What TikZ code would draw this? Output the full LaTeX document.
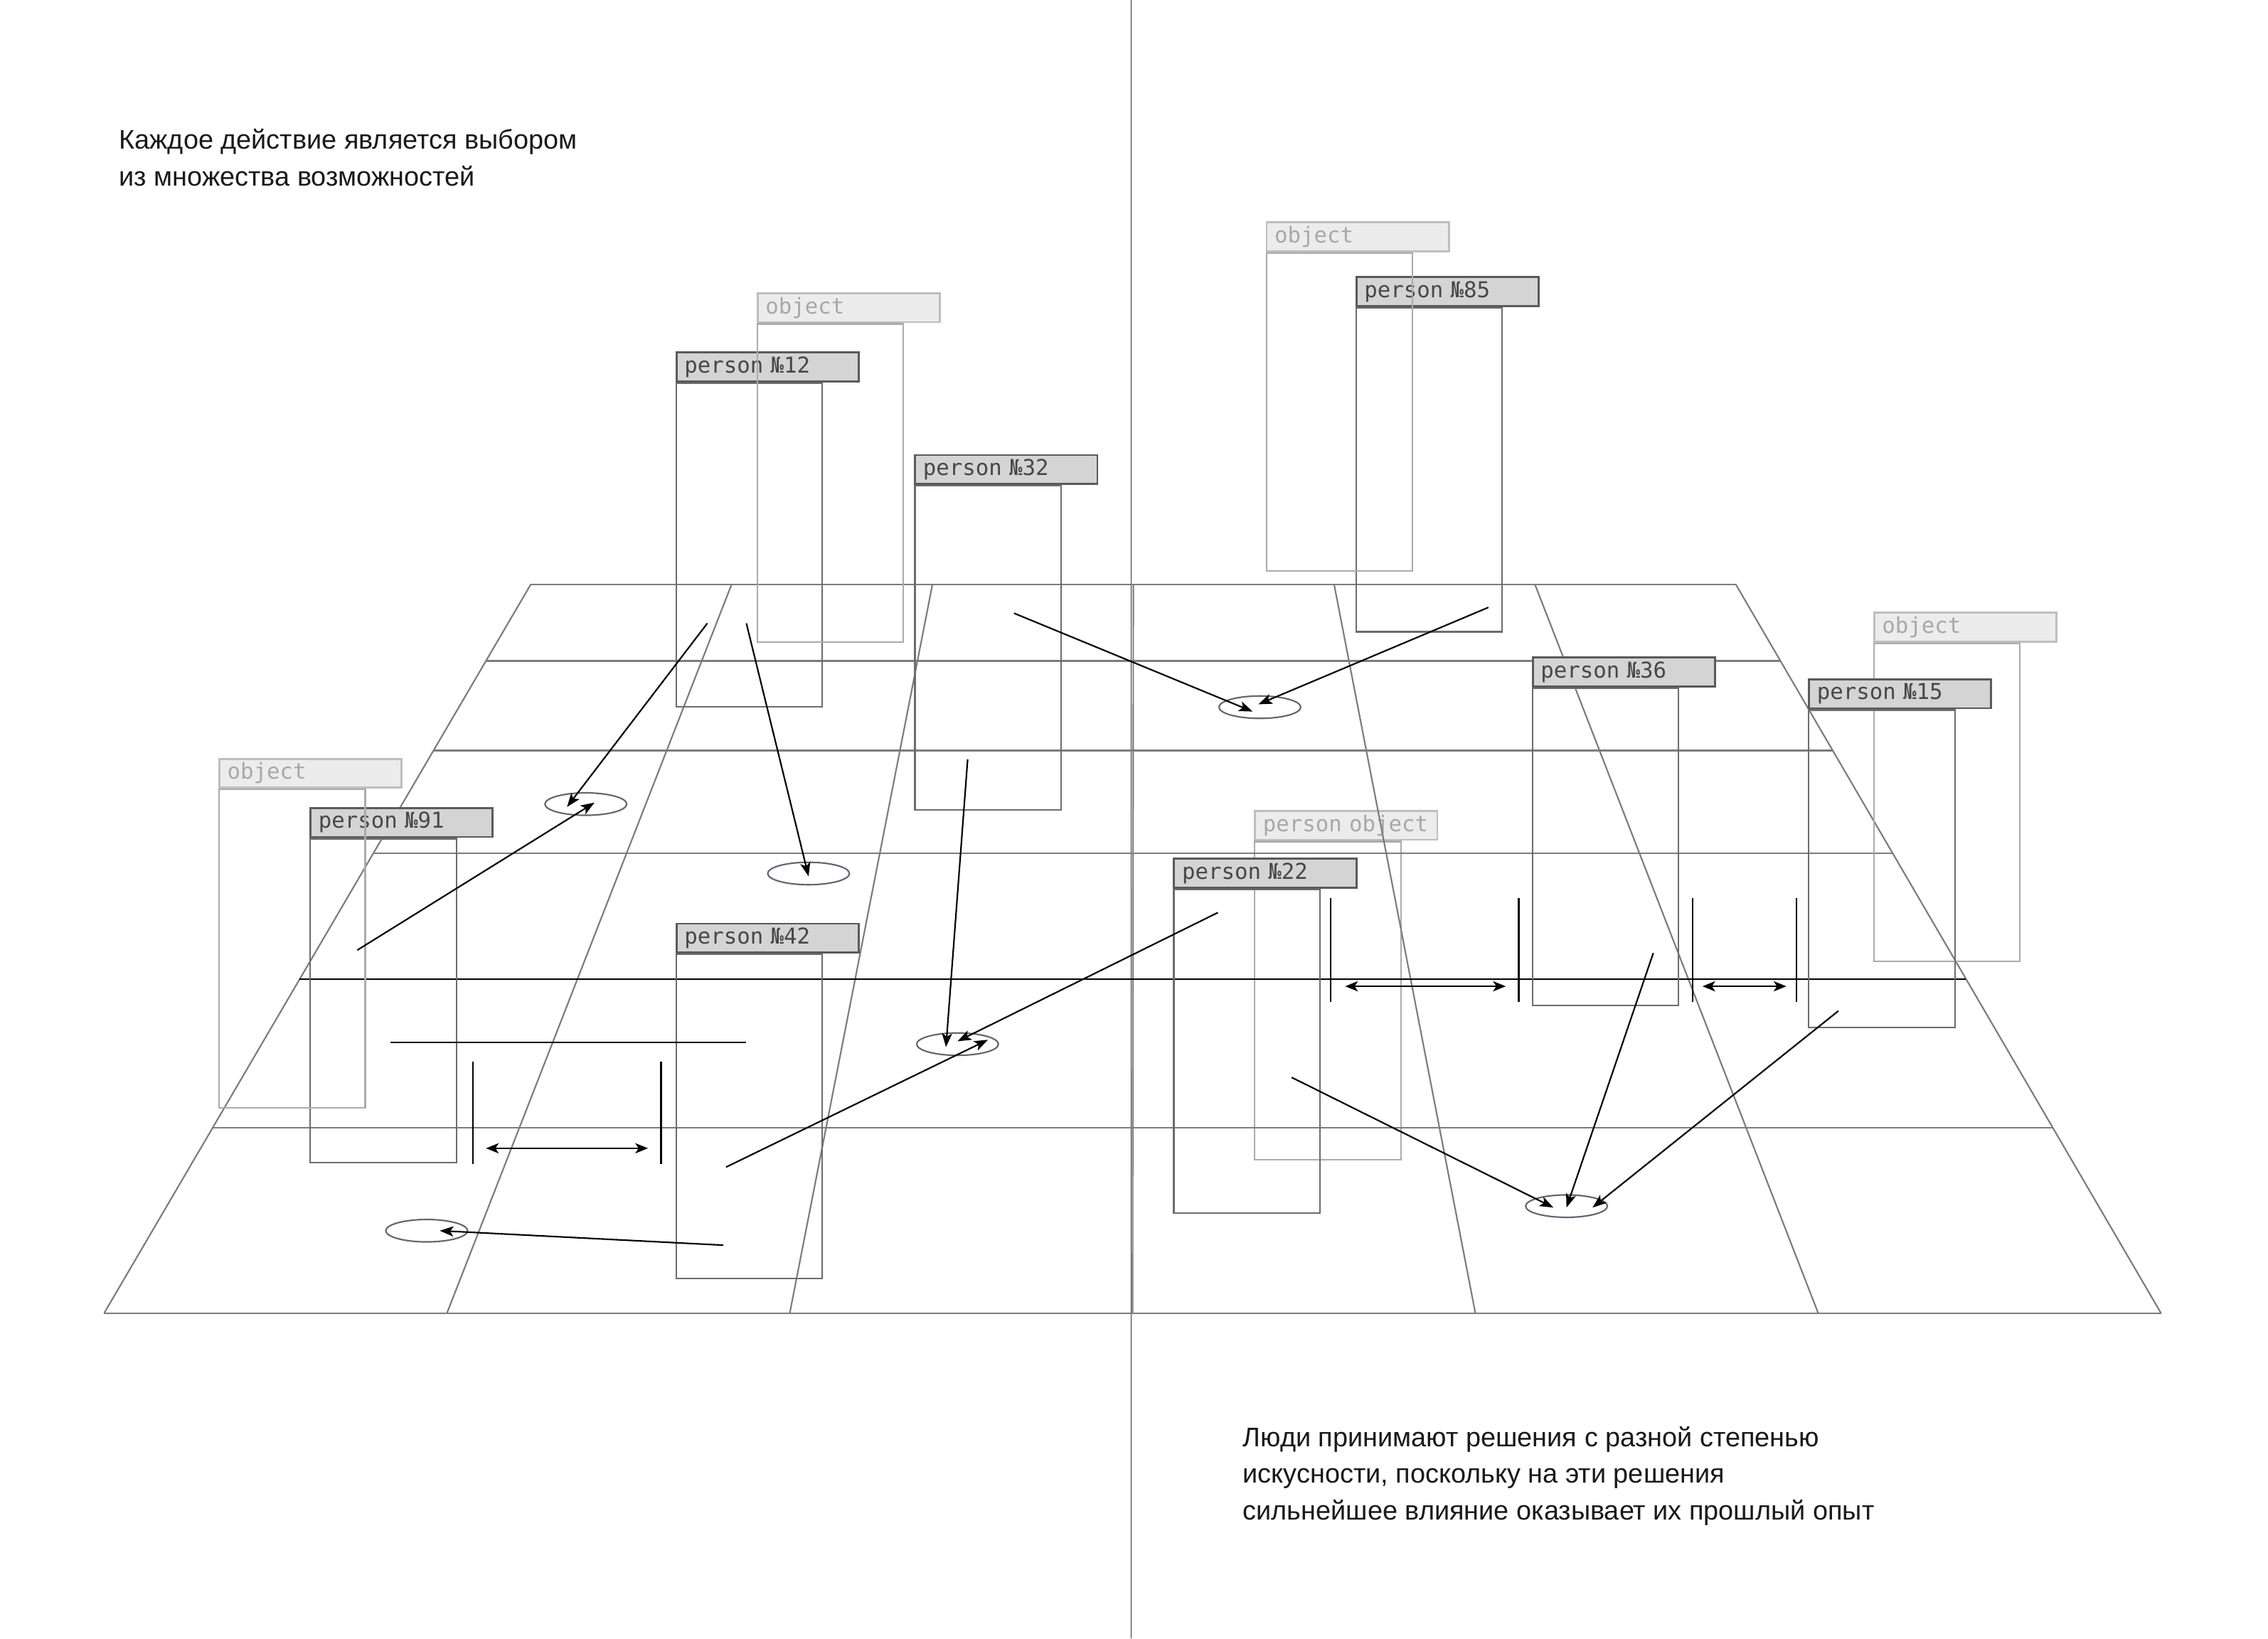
\documentclass[tikz,border=0pt]{standalone}
\usepackage{fontspec}
\setmainfont{Liberation Sans}
\newfontfamily\tagmono{DejaVu Sans Mono}
\usetikzlibrary{arrows.meta,positioning,shapes.geometric}
\definecolor{tagink}{HTML}{474747}
\definecolor{tagedge}{HTML}{5A5A5A}
\definecolor{tagfill}{HTML}{D4D4D4}
\definecolor{bodygrey}{HTML}{6C6C6C}
\definecolor{ghostink}{HTML}{A8A8A8}
\definecolor{ghostedge}{HTML}{BEBEBE}
\definecolor{ghostfill}{HTML}{ECECEC}
\definecolor{ghostline}{HTML}{ABABAB}
\definecolor{gridgrey}{HTML}{7C7C7C}
\definecolor{spotgrey}{HTML}{626672}

\begin{document}
\begin{tikzpicture}[x=0.02cm,y=-0.02cm,
    gridline/.style={draw=gridgrey,line width=0.6pt},
    ptag/.style={draw=tagedge,fill=tagfill,line width=0.8pt,text=tagink,
                 font=\tagmono\fontsize{8.6}{10}\selectfont,anchor=north west,
                 text width=2.3cm,align=left,minimum height=0.4cm,
                 inner xsep=0.11cm,inner ysep=0pt},
    pbody/.style={draw=bodygrey,line width=0.6pt,anchor=north west,
                  minimum width=2.02cm,minimum height=4.48cm,inner sep=0pt},
    otag/.style={ptag,draw=ghostedge,fill=ghostfill,text=ghostink},
    obody/.style={pbody,draw=ghostline,minimum height=4.4cm},
    spot/.style={ellipse,draw=spotgrey,line width=0.6pt,minimum width=1.13cm,
                 minimum height=0.31cm,inner sep=0pt},
    choicearrow/.style={-{Stealth[length=5.4pt,width=4pt,inset=1.3pt]},line width=0.6pt},
    gaparrow/.style={{Stealth[length=5pt,width=4pt,inset=1.3pt]}-{Stealth[length=5pt,width=4pt,inset=1.3pt]},
                     line width=0.6pt},
    gapbar/.style={line width=0.6pt},
    notetext/.style={font=\fontsize{10.6}{14.4}\selectfont,align=left,inner sep=0pt,
                     anchor=north west,text=black!90}]
  \useasboundingbox (0,0) rectangle (1568,1133);

  \draw[draw=black!80,line width=0.45pt] (782,0) -- (782,1133);

  % seen through by the floor
  \node[otag] (tpo) at (867,560) {person object};
  \node[obody] (bpo) at (tpo.south west) {};

  % floor
  \foreach \r in {404,457,519,590,780,908}
    \draw[gridline] ({367-0.5853*(\r-404)},\r) -- ({1200+0.5833*(\r-404)},\r);
  \foreach \i in {0,...,6}
    \draw[gridline] ({367+\i*138.83},404) -- ({72+\i*237},908);
  \draw[line width=0.65pt] (207,677) -- (1359,677);

  \node[ptag] (t12) at (467,243) {person №12};
  \node[pbody] (b12) at (t12.south west) {};
  \node[otag] (toa) at (523,202) {object};
  \node[obody] (boa) at (toa.south west) {};

  \node[ptag] (t32) at (632,314) {person №32};
  \node[pbody] (b32) at (t32.south west) {};

  \node[ptag] (t85) at (937,191) {person №85};
  \node[pbody] (b85) at (t85.south west) {};
  \node[otag] (tob) at (875,153) {object};
  \node[obody] (bob) at (tob.south west) {};

  \node[ptag] (t91) at (214,558) {person №91};
  \node[pbody] (b91) at (t91.south west) {};
  \node[otag] (toc) at (151,524) {object};
  \node[obody] (boc) at (toc.south west) {};

  \node[ptag] (t42) at (467,638) {person №42};
  \node[pbody] (b42) at (t42.south west) {};

  \node[ptag] (t22) at (811,593) {person №22};
  \node[pbody] (b22) at (t22.south west) {};

  \node[ptag] (t36) at (1059,454) {person №36};
  \node[pbody,minimum height=4.39cm] (b36) at (t36.south west) {};

  \node[otag] (tod) at (1295,423) {object};
  \node[obody] (bod) at (tod.south west) {};
  \node[ptag] (t15) at (1250,469) {person №15};
  \node[pbody,minimum height=4.39cm] (b15) at (t15.south west) {};

  \node[spot] (e1) at (405,556) {};
  \node[spot] (e2) at (559,604) {};
  \node[spot] (e3) at (662,722) {};
  \node[spot] (e4) at (295,851) {};
  \node[spot] (e5) at (871,489) {};
  \node[spot] (e6) at (1083,834) {};

  \coordinate (s1) at (489,431);
  \coordinate (s2) at (516,431);
  \coordinate (s3) at (247,657);
  \coordinate (s4) at (701,424);
  \coordinate (s5) at (1029,420);
  \coordinate (s6) at (669,525);
  \coordinate (s7) at (842,631);
  \coordinate (s8) at (502,807);
  \coordinate (s9) at (500,861);
  \coordinate (s10) at (893,745);
  \coordinate (s11) at (1143,659);
  \coordinate (s12) at (1271,699);

  \draw[choicearrow] (s1) -- ([shift={(-13,2)}]e1.center);
  \draw[choicearrow] (s3) -- ([shift={(6,-1)}]e1.center);
  \draw[choicearrow] (s2) -- ([shift={(0,2)}]e2.center);
  \draw[choicearrow] (s6) -- ([shift={(-8,2)}]e3.center);
  \draw[choicearrow] (s7) -- ([shift={(0,-2)}]e3.center);
  \draw[choicearrow] (s8) -- ([shift={(21,-3)}]e3.center);
  \draw[choicearrow] (s9) -- ([shift={(9,0)}]e4.center);
  \draw[choicearrow] (s4) -- ([shift={(-5,3)}]e5.center);
  \draw[choicearrow] (s5) -- ([shift={(-1,-2)}]e5.center);
  \draw[choicearrow] (s10) -- ([shift={(-9,1)}]e6.center);
  \draw[choicearrow] (s11) -- ([shift={(0,1)}]e6.center);
  \draw[choicearrow] (s12) -- ([shift={(18,1)}]e6.center);

  \draw[line width=0.6pt] (270,721) -- (516,721);
  \draw[gapbar] (327,734) -- (327,805);
  \draw[gapbar] (457,734) -- (457,805);
  \draw[gaparrow] (336,794) -- (448,794);
  \draw[gapbar] (920,621) -- (920,693);
  \draw[gapbar] (1050,621) -- (1050,693);
  \draw[gaparrow] (930,682) -- (1041,682);
  \draw[gapbar] (1170,621) -- (1170,693);
  \draw[gapbar] (1242,621) -- (1242,693);
  \draw[gaparrow] (1177,682) -- (1235,682);

  \node[notetext] (lead) at (82,89)
    {Каждое действие является выбором\\из множества возможностей};
  \node[notetext] (close) at (859,986)
    {Люди принимают решения с разной степенью\\искусности, поскольку на эти решения\\сильнейшее влияние оказывает их прошлый опыт};
\end{tikzpicture}
\end{document}
